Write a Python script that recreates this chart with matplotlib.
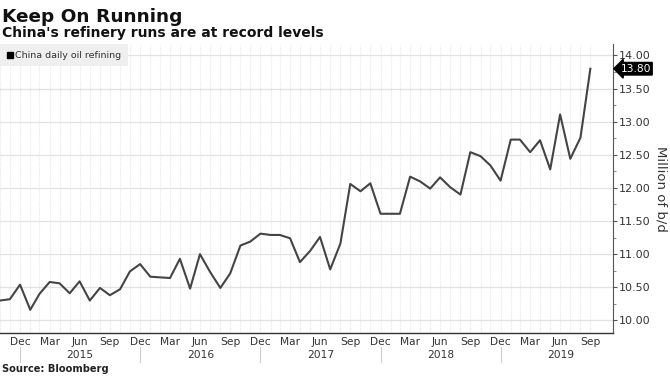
import pandas as pd
import matplotlib.pyplot as plt
import matplotlib.transforms as mtransforms
from matplotlib.lines import Line2D

# China daily oil refining, million b/d, Oct 2014 - Sep 2019
months = pd.period_range('2014-10', '2019-09', freq='M')
refining = [10.30, 10.32, 10.54, 10.16, 10.40, 10.58, 10.56, 10.41, 10.59, 10.30,
            10.49, 10.38, 10.47, 10.74, 10.85, 10.66, 10.65, 10.64, 10.93, 10.48,
            11.00, 10.73, 10.49, 10.71, 11.13, 11.19, 11.31, 11.29, 11.29, 11.24,
            10.88, 11.05, 11.26, 10.77, 11.16, 12.06, 11.95, 12.07, 11.61, 11.61,
            11.61, 12.17, 12.10, 11.99, 12.16, 12.01, 11.90, 12.54, 12.48, 12.34,
            12.11, 12.73, 12.73, 12.54, 12.72, 12.28, 13.11, 12.44, 12.76, 13.80]
years = [2015, 2016, 2017, 2018, 2019]

dates = months.to_timestamp(how='end').normalize()

fig = plt.figure(figsize=(6.7, 3.76), dpi=100)
ax = fig.add_axes([0.0, 0.1144, 0.915, 0.768])

ax.plot(dates, refining, color='#444444', lw=1.5, zorder=3)

ax.set_xlim(dates[0], pd.Timestamp('2019-12-08'))
ax.set_ylim(9.81, 14.17)

# monthly vertical grid, half-unit horizontal grid
for d in dates:
    ax.axvline(d, color='#e8e8e8', lw=0.8, ls=(0, (1, 1)), zorder=1)
ax.yaxis.set_major_locator(plt.MultipleLocator(0.5))
ax.yaxis.set_minor_locator(plt.MultipleLocator(0.25))
ax.grid(axis='y', which='major', color='#e2e2e2', lw=0.9, zorder=1)

ax.yaxis.tick_right()
ax.yaxis.set_major_formatter(plt.FormatStrFormatter('%.2f'))
ax.tick_params(axis='y', which='major', direction='out', length=3, width=0.8,
               colors='#555555', labelcolor='#333333', labelsize=8, pad=1)
ax.tick_params(axis='y', which='minor', direction='out', length=2, width=0.6,
               colors='#777777')
ax.set_ylabel('Million of b/d', rotation=270, labelpad=12, fontsize=9.5, color='#333333')
ax.yaxis.set_label_position('right')

for s in ['top', 'left']:
    ax.spines[s].set_visible(False)
ax.spines['right'].set_color('#555555')
ax.spines['bottom'].set_color('#333333')
ax.spines['right'].set_linewidth(0.8)
ax.spines['bottom'].set_linewidth(1.0)

# month labels every quarter
qdates = [d for d in dates if d.month in (3, 6, 9, 12)]
ax.set_xticks(qdates)
ax.set_xticklabels([d.strftime('%b') for d in qdates])
ax.tick_params(axis='x', length=0, pad=3, labelsize=7.7, labelcolor='#333333')

# year labels and separators
trans = mtransforms.blended_transform_factory(ax.transData, ax.transAxes)
for yr in years:
    ax.text(pd.Timestamp(f'{yr}-07-01'), -0.076, str(yr), transform=trans,
            ha='center', va='center', fontsize=7.7, color='#333333')
    sep = pd.Timestamp(f'{yr - 1}-12-31')
    ax.add_line(Line2D([sep, sep], [-0.05, -0.1], transform=trans,
                       color='#cccccc', lw=0.8, clip_on=False))

# last value tag
ax.text(1.012, refining[-1], f'{refining[-1]:.2f}',
        transform=mtransforms.blended_transform_factory(ax.transAxes, ax.transData),
        ha='left', va='center', fontsize=7.7, color='white',
        bbox=dict(boxstyle='larrow,pad=0.12', fc='black', ec='black'))

leg = ax.legend(handles=[Line2D([], [], marker='s', color='black', ls='', markersize=4)],
                labels=['China daily oil refining'], loc='upper left',
                frameon=True, fancybox=False, facecolor='#efefef', edgecolor='none',
                framealpha=1, fontsize=6.8, handletextpad=0.1, handlelength=0.8,
                borderaxespad=0, borderpad=0.7)
leg.get_texts()[0].set_color('#333333')

fig.text(0.003, 0.978, 'Keep On Running', fontsize=13.3, fontweight='bold',
         va='top', ha='left', color='#111111')
fig.text(0.003, 0.93, "China's refinery runs are at record levels", fontsize=10,
         fontweight='bold', va='top', ha='left', color='#111111')
fig.text(0.003, 0.006, 'Source: Bloomberg', fontsize=7.1, fontweight='bold',
         va='bottom', ha='left', color='#222222')

fig.savefig('out.png', dpi=100)
